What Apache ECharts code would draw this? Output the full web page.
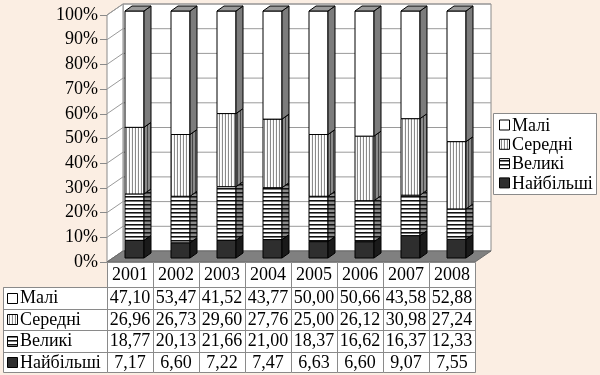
<!DOCTYPE html>
<html><head><meta charset="utf-8">
<script src="https://cdn.jsdelivr.net/npm/echarts@6/dist/echarts.min.js"></script>
<style>html,body{margin:0;padding:0;background:#FBEEE3;}#c{width:600px;height:375px;}</style>
</head><body><div id="c"></div>
<script>
// ---- data ----
const categories = ['2001','2002','2003','2004','2005','2006','2007','2008'];
const mali      = [47.10, 53.47, 41.52, 43.77, 50.00, 50.66, 43.58, 52.88];
const seredni   = [26.96, 26.73, 29.60, 27.76, 25.00, 26.12, 30.98, 27.24];
const velyki    = [18.77, 20.13, 21.66, 21.00, 18.37, 16.62, 16.37, 12.33];
const naibilshi = [7.17, 6.60, 7.22, 7.47, 6.63, 6.60, 9.07, 7.55];
const namesTopDown = ['Малі','Середні','Великі','Найбільші'];
const yTicks = [0,10,20,30,40,50,60,70,80,90,100];

// ---- styles ----
const FONT = "'Liberation Serif','Times New Roman',serif";
const FS = 18;
function stripe(dir, colors){
  const c = document.createElement('canvas');
  if (dir === 'v'){ c.width = colors.length; c.height = 1; }
  else { c.width = 1; c.height = colors.length; }
  const g = c.getContext('2d');
  colors.forEach((col,i)=>{ g.fillStyle = col; if(dir==='v') g.fillRect(i,0,1,1); else g.fillRect(0,i,1,1); });
  return {image: c, repeat: 'repeat'};
}
const STY = {
  'Малі':      {front:'#ffffff', side:'#7c7c7c', top:'#9a9a9a'},
  'Середні':   {front:stripe('v',['#8a8a8a','#ffffff','#f4f4f4']), side:stripe('v',['#444','#8a8a8a','#8a8a8a'])},
  'Великі':    {front:stripe('h',['#111','#777','#fff','#fff']), side:stripe('h',['#111','#444','#8a8a8a','#8a8a8a'])},
  'Найбільші': {front:'#2e2e2e', side:'#1a1a1a'}
};
const DEPTH = [16,-11];     // wall depth
const BOFF = [4.5,-4];      // bar front offset
const BHALF = 9.5;          // bar half width
const BDEP = [7,-5];        // bar depth

// ---- build stacked (100%) data ----
const raw = {'Найбільші':naibilshi,'Великі':velyki,'Середні':seredni,'Малі':mali};
const bottomUp = ['Найбільші','Великі','Середні','Малі'];
const totals = categories.map((_,i)=>bottomUp.reduce((s,n)=>s+raw[n][i],0));
const base = categories.map(()=>0);
const barSeries = bottomUp.map((name,si)=>{
  const data = categories.map((_,i)=>{
    const p = raw[name][i]/totals[i]*100;
    const d = [i, base[i], base[i]+p];
    base[i] += p;
    return d;
  });
  const st = STY[name];
  const isTop = si === bottomUp.length-1;
  return {
    type:'custom', name, z:3+si, data, encode:{x:0,y:[1,2]},
    renderItem(params, api){
      const i = api.value(0);
      const b = api.coord([i, api.value(1)]);
      const t = api.coord([i, api.value(2)]);
      const xL = b[0]+BOFF[0]-BHALF, xR = b[0]+BOFF[0]+BHALF;
      const yB = b[1]+BOFF[1], yT = t[1]+BOFF[1];
      const ls = {stroke:'#000', lineWidth:1};
      const ch = [
        {type:'rect', shape:{x:xL,y:yT,width:xR-xL,height:yB-yT}, style:Object.assign({fill:st.front},ls)},
        {type:'polygon', shape:{points:[[xR,yB],[xR+BDEP[0],yB+BDEP[1]],[xR+BDEP[0],yT+BDEP[1]],[xR,yT]]}, style:Object.assign({fill:st.side},ls)}
      ];
      if (isTop) ch.push({type:'polygon', shape:{points:[[xL,yT],[xR,yT],[xR+BDEP[0],yT+BDEP[1]],[xL+BDEP[0],yT+BDEP[1]]]}, style:Object.assign({fill:st.top},ls)});
      return {type:'group', children:ch};
    }
  };
});

const scene = {
  type:'custom', z:1, data:[[0,0]], encode:{x:0,y:1}, silent:true,
  renderItem(params, api){
    const cs = params.coordSys;
    const x0 = cs.x, y0 = cs.y, w = cs.width, h = cs.height, bot = y0+h;
    const dx = DEPTH[0], dy = DEPTH[1];
    const ch = [];
    ch.push({type:'rect', shape:{x:x0+dx, y:y0+dy, width:w, height:h}, style:{fill:'#fff', stroke:'#8a8a8a', lineWidth:1}});
    ch.push({type:'polygon', shape:{points:[[x0,bot],[x0,y0],[x0+dx,y0+dy],[x0+dx,bot+dy]]}, style:{fill:'#fff', stroke:'#8a8a8a', lineWidth:1}});
    yTicks.forEach(v=>{
      const y = api.coord([0,v])[1];
      ch.push({type:'line', shape:{x1:x0+dx,y1:y+dy,x2:x0+dx+w,y2:y+dy}, style:{stroke:'#9a9a9a', lineWidth:1}});
      ch.push({type:'line', shape:{x1:x0,y1:y,x2:x0+dx,y2:y+dy}, style:{stroke:'#9a9a9a', lineWidth:1}});
    });
    ch.push({type:'polygon', shape:{points:[[x0,bot],[x0+w,bot],[x0+w+dx,bot+dy],[x0+dx,bot+dy]]}, style:{fill:'#808080', stroke:'#6a6a6a', lineWidth:1}});
    return {type:'group', children:ch};
  }
};

const chart = echarts.init(document.getElementById('c'), null, {renderer:'canvas'});
chart.setOption({
  backgroundColor:'#FBEEE3',
  animation:false,
  grid:{left:107, top:15, width:368, height:247},
  xAxis:{type:'category', data:categories, show:false},
  yAxis:{type:'value', min:0, max:100, interval:10,
    axisLine:{show:true, lineStyle:{color:'#8a8a8a'}},
    axisTick:{show:true, length:7, lineStyle:{color:'#8a8a8a'}},
    splitLine:{show:false},
    axisLabel:{formatter:'{value}%', color:'#000', fontFamily:FONT, fontSize:FS, margin:9}
  },
  series:[scene].concat(barSeries)
});

// ---- legend + data table (graphics) ----
const g = [];
const icon = (x,y,name)=>({type:'rect', shape:{x:x,y:y,width:10,height:10}, style:{fill:STY[name].front, stroke:'#000', lineWidth:1}, z:10});
const txt = (x,y,s,align)=>({type:'text', x:x, y:y, style:{text:s, fill:'#000', font:FS+'px '+FONT, align:align||'left', verticalAlign:'middle'}, z:11});
// legend
g.push({type:'rect', shape:{x:493.5,y:113.5,width:103,height:81}, style:{fill:'#fff', stroke:'#8a8a8a', lineWidth:1}, z:9});
namesTopDown.forEach((n,k)=>{
  const cy = 125 + k*19.3;
  g.push(icon(499.5, cy-5, n));
  g.push(txt(512, cy+1, n));
});
// table
const rowTops = [262, 287, 308.5, 330, 351.5];
const rowBot = 372.5;
const colW = 46;
categories.forEach((c,i)=>{
  const cx = chart.convertToPixel({gridIndex:0}, [i,0])[0];
  const xl = cx - colW/2;
  g.push({type:'rect', shape:{x:xl+0.5, y:262.5, width:colW, height:rowBot-262.5}, style:{fill:'#fff', stroke:'#8a8a8a', lineWidth:1}, z:8});
  g.push(txt(cx, (rowTops[0]+rowTops[1])/2+1, c, 'center'));
  namesTopDown.forEach((n,k)=>{
    const yc = (rowTops[k+1] + (k<3?rowTops[k+2]:rowBot))/2 + 1;
    g.push(txt(cx, yc, raw[n][i].toFixed(2).replace('.',','), 'center'));
  });
});
g.push({type:'rect', shape:{x:3.5, y:287.5, width:104, height:rowBot-287.5}, style:{fill:'#fff', stroke:'#8a8a8a', lineWidth:1}, z:8});
for (let k=1;k<rowTops.length;k++){
  g.push({type:'line', shape:{x1:3.5,y1:Math.round(rowTops[k])+0.5,x2:475.5,y2:Math.round(rowTops[k])+0.5}, style:{stroke:'#8a8a8a', lineWidth:1}, z:9});
}
namesTopDown.forEach((n,k)=>{
  const yc = (rowTops[k+1] + (k<3?rowTops[k+2]:rowBot))/2;
  g.push(icon(7.5, Math.round(yc-5)+0.5, n));
  g.push(txt(20, yc+1, n));
});
chart.setOption({graphic:g});
</script></body></html>
